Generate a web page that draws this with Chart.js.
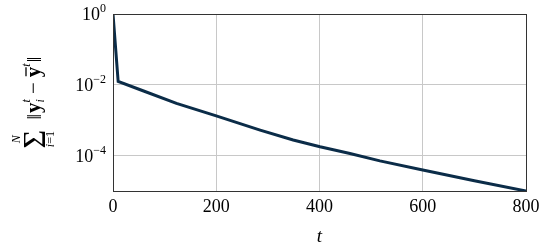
<!DOCTYPE html>
<html>
<head>
<meta charset="utf-8">
<script src="https://cdn.jsdelivr.net/npm/chart.js@4"></script>
<style>
  html, body { margin: 0; padding: 0; background: #fff; }
  #wrap { width: 548px; height: 249px; }
</style>
</head>
<body>
<div id="wrap"><canvas id="errChart"></canvas></div>
<script>
// iteration t and consensus error
const tValues = [0, 10, 58, 123, 200, 285, 349, 401, 459, 517, 600, 700, 800];
const errValues = [1.0, 1.24e-2, 6.8e-3, 3.0e-3, 1.32e-3, 5.25e-4, 2.75e-4, 1.78e-4, 1.15e-4, 7.1e-5, 3.9e-5, 1.95e-5, 1.0e-5];
const xTicks = [0, 200, 400, 600, 800];
const yTickExps = [0, -2, -4];

const SERIF = "'Liberation Serif', 'DejaVu Serif', serif";
const LINE_COLOR = "#0b2c48";

// y tick labels as 10^k with a raised exponent
const yTickLabels = {
  id: "yTickLabels",
  afterDraw(chart) {
    const ctx = chart.ctx;
    const y = chart.scales.y;
    ctx.save();
    ctx.fillStyle = "#000";
    ctx.textBaseline = "alphabetic";
    yTickExps.forEach(k => {
      const py = y.getPixelForValue(Math.pow(10, k));
      const exp = k < 0 ? "\u2212" + (-k) : String(k);
      ctx.font = `12px ${SERIF}`;
      const ew = ctx.measureText(exp).width;
      ctx.font = `18px ${SERIF}`;
      const bw = ctx.measureText("10").width;
      const right = y.right - 7;
      ctx.textAlign = "left";
      ctx.fillText("10", right - ew - bw, py + 6);
      ctx.font = `12px ${SERIF}`;
      ctx.fillText(exp, right - ew, py - 2);
    });
    ctx.restore();
  }
};

// rotated y axis title: sum_{i=1}^N ||y_i^t - ybar^t||
const yTitle = {
  id: "yTitle",
  afterDraw(chart) {
    const ctx = chart.ctx;
    const area = chart.chartArea;
    const cx = 40;
    const cy = (area.top + area.bottom) / 2;
    const big = `32px ${SERIF}`;
    const main = `21px ${SERIF}`;
    const bold = `bold 21px ${SERIF}`;
    const small = `12px ${SERIF}`;
    const smallIt = `italic 12px ${SERIF}`;

    const pieces = [];
    let x = 0;
    const w = (font, s) => { ctx.font = font; return ctx.measureText(s).width; };

    // big sum with limits
    const sw = w(big, "\u03A3");
    const nw = w(smallIt, "N");
    const lw = w(small, "i=1");
    const sumW = Math.max(sw, lw);
    pieces.push({ font: big, s: "\u03A3", x: x + (sumW - sw) / 2, y: 5 });
    pieces.push({ font: smallIt, s: "N", x: x + (sumW - nw) / 2, y: -20 });
    pieces.push({ font: smallIt, s: "i", x: x + (sumW - lw) / 2, y: 14 });
    pieces.push({ font: small, s: "=1", x: x + (sumW - lw) / 2 + w(smallIt, "i"), y: 14 });
    x += sumW + 10;

    pieces.push({ font: main, s: "\u2016", x, y: 1 });
    x += w(main, "\u2016") + 1;
    pieces.push({ font: bold, s: "y", x, y: 0 });
    x += w(bold, "y");
    pieces.push({ font: smallIt, s: "i", x, y: 4 });
    pieces.push({ font: smallIt, s: "t", x, y: -10 });
    x += w(smallIt, "t") + 5;
    pieces.push({ font: main, s: "\u2212", x, y: 0 });
    x += w(main, "\u2212") + 5;
    const ybx = x;
    pieces.push({ font: bold, s: "y", x, y: 0 });
    x += w(bold, "y");
    pieces.push({ font: smallIt, s: "t", x, y: -10 });
    x += w(smallIt, "t") + 1;
    pieces.push({ font: main, s: "\u2016", x, y: 1 });
    x += w(main, "\u2016");
    const total = x;

    ctx.save();
    ctx.translate(cx, cy);
    ctx.rotate(-Math.PI / 2);
    ctx.translate(-total / 2, 0);
    ctx.fillStyle = "#000";
    ctx.textAlign = "left";
    ctx.textBaseline = "alphabetic";
    pieces.forEach(p => {
      ctx.font = p.font;
      ctx.fillText(p.s, p.x, p.y);
    });
    // bar over the second y
    ctx.strokeStyle = "#000";
    ctx.lineWidth = 1.3;
    ctx.beginPath();
    ctx.moveTo(ybx + 1, -14);
    ctx.lineTo(ybx + w(bold, "y") - 0.5, -14);
    ctx.stroke();
    ctx.restore();
  }
};

// axis frame on top of the data
const frame = {
  id: "frame",
  afterDraw(chart) {
    const { left, top, right, bottom } = chart.chartArea;
    const ctx = chart.ctx;
    ctx.save();
    ctx.strokeStyle = "#333";
    ctx.lineWidth = 1;
    ctx.strokeRect(Math.round(left) + 0.5, Math.round(top) + 0.5, Math.round(right - left), Math.round(bottom - top));
    ctx.restore();
  }
};

const points = tValues.map((t, i) => ({ x: t, y: errValues[i] }));

new Chart(document.getElementById("errChart"), {
  type: "line",
  data: {
    datasets: [{
      data: points,
      borderColor: LINE_COLOR,
      borderWidth: 3,
      pointRadius: 0,
      tension: 0,
      fill: false
    }]
  },
  options: {
    responsive: true,
    maintainAspectRatio: false,
    animation: false,
    layout: { padding: { left: 0, right: 22, top: 14, bottom: 0 } },
    plugins: {
      legend: { display: false },
      tooltip: { enabled: false }
    },
    scales: {
      x: {
        type: "linear",
        min: 0,
        max: 800,
        afterBuildTicks: scale => { scale.ticks = xTicks.map(v => ({ value: v })); },
        afterFit: scale => { scale.height = 58; },
        grid: { color: "#c8c8c8", drawTicks: false },
        border: { display: false },
        ticks: {
          color: "#000",
          padding: 5,
          maxRotation: 0,
          font: { family: SERIF, size: 18 }
        },
        title: {
          display: true,
          text: "t",
          color: "#000",
          padding: { top: 0, bottom: 1 },
          font: { family: SERIF, size: 19, style: "italic" }
        }
      },
      y: {
        type: "logarithmic",
        min: 1e-5,
        max: 1,
        afterBuildTicks: scale => { scale.ticks = yTickExps.map(k => ({ value: Math.pow(10, k) })); },
        afterFit: scale => { scale.width = 113; },
        grid: { color: "#c8c8c8", drawTicks: false },
        border: { display: false },
        ticks: { display: false }
      }
    }
  },
  plugins: [yTickLabels, yTitle, frame]
});
</script>
</body>
</html>
